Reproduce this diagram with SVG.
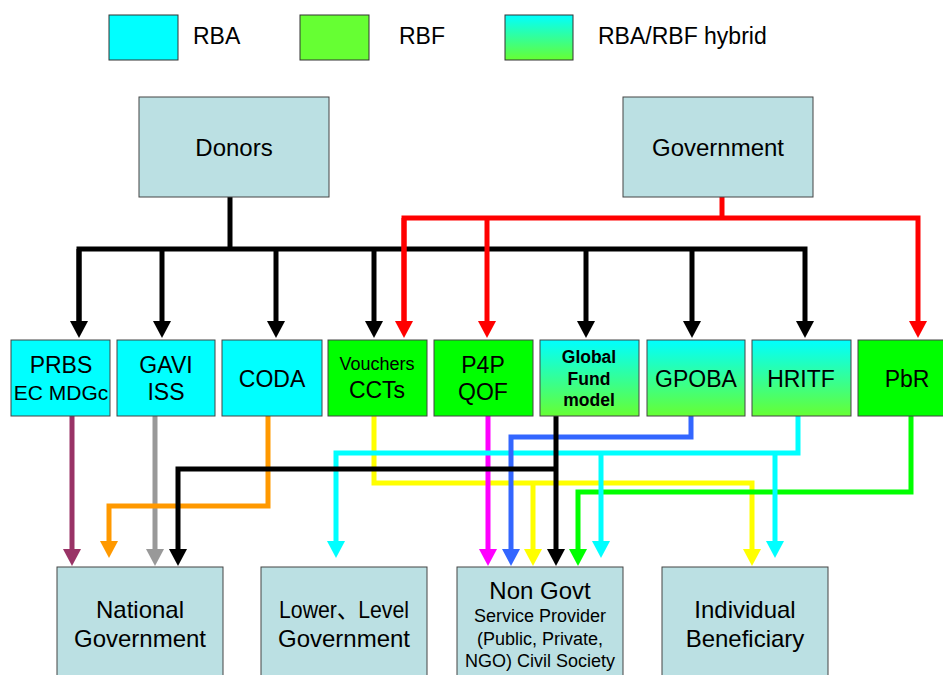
<svg xmlns="http://www.w3.org/2000/svg" width="943" height="675" viewBox="0 0 943 675">
<defs>
<linearGradient id="hyb" x1="0" y1="0" x2="0" y2="1">
<stop offset="0" stop-color="#00FFFF"/>
<stop offset="1" stop-color="#66FF33"/>
</linearGradient>
<marker id="aK" viewBox="0 0 17 18" markerWidth="17" markerHeight="18" refX="0" refY="9" orient="auto" markerUnits="userSpaceOnUse"><path d="M0,0 L17,9 L0,18 Z" fill="#000000"/></marker>
<marker id="aR" viewBox="0 0 17 18" markerWidth="17" markerHeight="18" refX="0" refY="9" orient="auto" markerUnits="userSpaceOnUse"><path d="M0,0 L17,9 L0,18 Z" fill="#FF0000"/></marker>
<marker id="aM" viewBox="0 0 17 18" markerWidth="17" markerHeight="18" refX="0" refY="9" orient="auto" markerUnits="userSpaceOnUse"><path d="M0,0 L17,9 L0,18 Z" fill="#993366"/></marker>
<marker id="aG" viewBox="0 0 17 18" markerWidth="17" markerHeight="18" refX="0" refY="9" orient="auto" markerUnits="userSpaceOnUse"><path d="M0,0 L17,9 L0,18 Z" fill="#999999"/></marker>
<marker id="aO" viewBox="0 0 17 18" markerWidth="17" markerHeight="18" refX="0" refY="9" orient="auto" markerUnits="userSpaceOnUse"><path d="M0,0 L17,9 L0,18 Z" fill="#FF9900"/></marker>
<marker id="aY" viewBox="0 0 17 18" markerWidth="17" markerHeight="18" refX="0" refY="9" orient="auto" markerUnits="userSpaceOnUse"><path d="M0,0 L17,9 L0,18 Z" fill="#FFFF00"/></marker>
<marker id="aP" viewBox="0 0 17 18" markerWidth="17" markerHeight="18" refX="0" refY="9" orient="auto" markerUnits="userSpaceOnUse"><path d="M0,0 L17,9 L0,18 Z" fill="#FF00FF"/></marker>
<marker id="aB" viewBox="0 0 17 18" markerWidth="17" markerHeight="18" refX="0" refY="9" orient="auto" markerUnits="userSpaceOnUse"><path d="M0,0 L17,9 L0,18 Z" fill="#3366FF"/></marker>
<marker id="aC" viewBox="0 0 17 18" markerWidth="17" markerHeight="18" refX="0" refY="9" orient="auto" markerUnits="userSpaceOnUse"><path d="M0,0 L17,9 L0,18 Z" fill="#00FFFF"/></marker>
<marker id="aN" viewBox="0 0 17 18" markerWidth="17" markerHeight="18" refX="0" refY="9" orient="auto" markerUnits="userSpaceOnUse"><path d="M0,0 L17,9 L0,18 Z" fill="#00FF00"/></marker>
</defs>
<style>
text { font-family: "Liberation Sans", Arial, "Noto Sans CJK SC", sans-serif; fill: #000; }
.t24 { font-size: 24px; text-anchor: middle; }
.t23 { font-size: 23px; text-anchor: middle; }
.t21 { font-size: 21px; text-anchor: middle; }
.t18 { font-size: 18px; text-anchor: middle; }
.tb { font-size: 17.5px; font-weight: bold; text-anchor: middle; }
.leg { font-size: 23px; }
.main { fill: #BBE0E3; stroke: #444; stroke-width: 1; }
.rba { fill: #00FFFF; stroke: #444; stroke-width: 1; }
.rbf { fill: #00FF00; stroke: #444; stroke-width: 1; }
.hyb { fill: url(#hyb); stroke: #444; stroke-width: 1; }
.c { fill: none; stroke-width: 5; stroke-linejoin: miter; stroke-linecap: butt; }
</style>
<rect width="943" height="675" fill="#FFFFFF"/>

<g id="legend">
<rect x="109" y="15" width="69" height="45" fill="#00FFFF" stroke="#333" stroke-width="1"/>
<text class="leg" x="193" y="44">RBA</text>
<rect x="300" y="15" width="69" height="45" fill="#66FF33" stroke="#333" stroke-width="1"/>
<text class="leg" x="399" y="44">RBF</text>
<rect x="505" y="15" width="68" height="45" fill="url(#hyb)" stroke="#333" stroke-width="1"/>
<text class="leg" x="598" y="44">RBA/RBF hybrid</text>
</g>

<g id="connectors">
<path class="c" stroke="#000000" d="M230,197 V249"/>
<path class="c" stroke="#000000" d="M79,321 V249 H805 V321" marker-end="url(#aK)"/>
<path class="c" stroke="#000000" d="M79,249 V321" marker-end="url(#aK)"/>
<path class="c" stroke="#000000" d="M162,249 V321" marker-end="url(#aK)"/>
<path class="c" stroke="#000000" d="M276,249 V321" marker-end="url(#aK)"/>
<path class="c" stroke="#000000" d="M374,249 V321" marker-end="url(#aK)"/>
<path class="c" stroke="#000000" d="M586,249 V321" marker-end="url(#aK)"/>
<path class="c" stroke="#000000" d="M692,249 V321" marker-end="url(#aK)"/>
<path class="c" stroke="#FF0000" d="M722,197 V218"/>
<path class="c" stroke="#FF0000" d="M404,321 V218 H918 V321" marker-end="url(#aR)"/>
<path class="c" stroke="#FF0000" d="M404,218 V321" marker-end="url(#aR)"/>
<path class="c" stroke="#FF0000" d="M487,218 V321" marker-end="url(#aR)"/>

<path class="c" stroke="#993366" d="M72,416 V549" marker-end="url(#aM)"/>
<path class="c" stroke="#999999" d="M155,416 V549" marker-end="url(#aG)"/>
<path class="c" stroke="#FF9900" d="M268,416 V506 H109 V541" marker-end="url(#aO)"/>
<path class="c" stroke="#FFFF00" d="M374,416 V483 H752 V549" marker-end="url(#aY)"/>
<path class="c" stroke="#FFFF00" d="M533,483 V549" marker-end="url(#aY)"/>
<path class="c" stroke="#FF00FF" d="M488,416 V549" marker-end="url(#aP)"/>
<path class="c" stroke="#00FF00" d="M911,416 V492 H578 V549" marker-end="url(#aN)"/>
<path class="c" stroke="#00FFFF" d="M798,416 V453 H336 V541" marker-end="url(#aC)"/>
<path class="c" stroke="#00FFFF" d="M601,453 V541" marker-end="url(#aC)"/>
<path class="c" stroke="#00FFFF" d="M775,453 V541" marker-end="url(#aC)"/>
<path class="c" stroke="#3366FF" d="M691,416 V437 H511 V549" marker-end="url(#aB)"/>
<path class="c" stroke="#000000" d="M556,469 H178 V549" marker-end="url(#aK)"/>
<path class="c" stroke="#000000" d="M556,416 V549" marker-end="url(#aK)"/>
</g>

<g id="donors">
<rect class="main" x="139" y="97" width="190" height="100"/>
<text class="t24" x="234" y="156">Donors</text>
</g>
<g id="government">
<rect class="main" x="623" y="97" width="190" height="100"/>
<text class="t24" x="718" y="156">Government</text>
</g>

<g id="prbs">
<rect class="rba" x="11" y="340" width="99" height="76"/>
<text class="t23" x="61" y="373">PRBS</text>
<text class="t21" x="61" y="400">EC MDGc</text>
</g>
<g id="gavi">
<rect class="rba" x="117" y="340" width="98" height="76"/>
<text class="t23" x="166" y="373">GAVI</text>
<text class="t23" x="166" y="400">ISS</text>
</g>
<g id="coda">
<rect class="rba" x="222" y="340" width="100" height="76"/>
<text class="t23" x="272" y="387">CODA</text>
</g>
<g id="vouchers">
<rect class="rbf" x="328" y="340" width="99" height="76"/>
<text class="t18" x="377" y="370">Vouchers</text>
<text class="t23" x="377" y="398">CCTs</text>
</g>
<g id="p4p">
<rect class="rbf" x="434" y="340" width="99" height="76"/>
<text class="t23" x="483" y="373">P4P</text>
<text class="t23" x="483" y="400">QOF</text>
</g>
<g id="globalfund">
<rect class="hyb" x="540" y="340" width="99" height="76"/>
<text class="tb" x="589" y="363">Global</text>
<text class="tb" x="589" y="385">Fund</text>
<text class="tb" x="589" y="406">model</text>
</g>
<g id="gpoba">
<rect class="hyb" x="647" y="340" width="98" height="76"/>
<text class="t23" x="696" y="387">GPOBA</text>
</g>
<g id="hritf">
<rect class="hyb" x="752" y="340" width="99" height="76"/>
<text class="t23" x="801" y="387">HRITF</text>
</g>
<g id="pbr">
<rect class="rbf" x="858" y="340" width="99" height="76"/>
<text class="t23" x="907" y="387">PbR</text>
</g>

<g id="national">
<rect class="main" x="57" y="567" width="166" height="112"/>
<text class="t24" x="140" y="618">National</text>
<text class="t24" x="140" y="647">Government</text>
</g>
<g id="lowerlevel">
<rect class="main" x="261" y="567" width="166" height="112"/>
<text class="t24" x="344" y="618" textLength="130" lengthAdjust="spacingAndGlyphs">Lower、Level</text>
<text class="t24" x="344" y="647">Government</text>
</g>
<g id="nongovt">
<rect class="main" x="457" y="567" width="166" height="112"/>
<text class="t24" x="540" y="599">Non Govt</text>
<text class="t18" x="540" y="622">Service Provider</text>
<text class="t18" x="540" y="645">(Public, Private,</text>
<text class="t18" x="540" y="667">NGO) Civil Society</text>
</g>
<g id="individual">
<rect class="main" x="662" y="567" width="166" height="112"/>
<text class="t24" x="745" y="618">Individual</text>
<text class="t24" x="745" y="647">Beneficiary</text>
</g>
</svg>
